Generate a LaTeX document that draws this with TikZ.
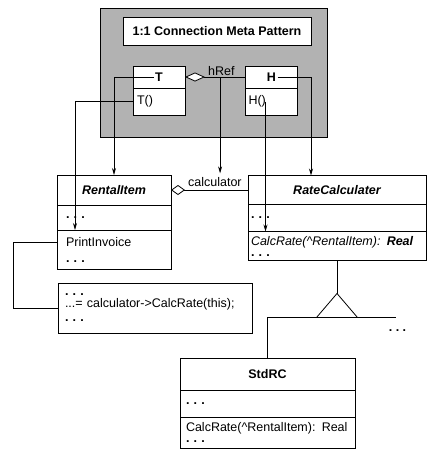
\documentclass[tikz,border=0pt]{standalone}
\usepackage{fontspec}
\setmainfont{Liberation Sans}
\usetikzlibrary{arrows.meta, positioning, calc}
\newcommand{\umlfont}{\fontsize{12.5}{15}\selectfont}
\newcommand{\umldots}{\textbf{.~.~.}}

\begin{document}
\begin{tikzpicture}[
    x=1pt, y=1pt,
    cname/.style={rectangle, draw, line width=0.9pt, fill=white, outer sep=0pt,
                  inner sep=0pt, font=\umlfont\bfseries\itshape, align=center},
    crow/.style={rectangle, draw, line width=0.9pt, fill=white, outer sep=0pt,
                 inner xsep=5pt, inner ysep=0pt, font=\umlfont, align=left},
    arr/.style={-{Stealth[length=7pt,width=4pt]}, line width=0.8pt},
    link/.style={line width=0.8pt},
]
    \useasboundingbox (0,0) rectangle (427,-450);

    % meta pattern
    \node[draw, line width=1pt, fill=black!30, minimum width=227pt, minimum height=129pt] (meta) at (213.5,-72.5) {};
    \node[cname, font=\umlfont\bfseries, minimum width=188pt, minimum height=28pt] (mtitle) at (217,-31) {1:1 Connection Meta Pattern};

    \node[cname, font=\umlfont\bfseries, minimum width=52pt, minimum height=22pt] (Tn) at (159,-77) {T};
    \node[crow, inner xsep=4pt, text width=44pt, minimum height=27pt, below=0pt of Tn] (Tm) {T()};

    \node[cname, font=\umlfont\bfseries, minimum width=52pt, minimum height=22pt] (Hn) at (271.5,-77) {H};
    \node[crow, inner xsep=3pt, text width=46pt, minimum height=27pt, below=0pt of Hn] (Hm) {H()};

    % classes
    \node[cname, minimum width=114pt, minimum height=30pt] (rit) at (114,-190) {RentalItem};
    \node[crow, inner xsep=9pt, text width=96pt, minimum height=25pt, below=0pt of rit] (ria) {\umldots};
    \node[crow, inner xsep=9pt, text width=96pt, minimum height=39pt, below=0pt of ria] (rim)
        {PrintInvoice\\[1pt]\umldots};

    \node[cname, minimum width=178pt, minimum height=29pt, right=77pt of rit] (rct) {RateCalculater};
    \node[crow, inner xsep=3pt, text width=172pt, minimum height=27pt, below=0pt of rct] (rca) {\umldots};
    \node[crow, inner xsep=3pt, text width=172pt, minimum height=29pt, below=0pt of rca] (rcm)
        {\textit{CalcRate(\textasciicircum RentalItem): \textbf{Real}}\\[-4pt]\umldots};

    \node[crow, inner xsep=7pt, text width=180pt, minimum height=50pt] (code) at (155,-308)
        {\umldots\\[-3pt]...= calculator->CalcRate(this);\\[-1pt]\umldots};

    \node[cname, font=\umlfont\bfseries, minimum width=175pt, minimum height=32pt] (sdt) at (267.5,-374) {StdRC};
    \node[crow, inner xsep=6pt, text width=163pt, minimum height=27pt, below=0pt of sdt] (sda) {\umldots};
    \node[crow, inner xsep=6pt, text width=163pt, minimum height=31pt, below=0pt of sda] (sdm)
        {CalcRate(\textasciicircum RentalItem): Real\\[-4pt]\umldots};

    % associations
    \draw[link, {Diamond[fill=white,length=20pt,width=9pt]}-] (Tn.east)
        -- coordinate[pos=0.58] (hr) node[above, pos=0.6, font=\umlfont, inner sep=1pt] (hreftxt) {hRef} (Hn.west);
    \draw[link, {Diamond[fill=white,length=14pt,width=10pt]}-] (rit.east)
        -- node[above, pos=0.57, font=\umlfont] (calc) {calculator} (rct.west);
    \draw[link] ([yshift=7pt]rim.west) -- ++(-44,0) |- (code.west);

    % meta pattern bindings
    \draw[arr] ([xshift=-5pt]Tn.center) -| (rit.north);
    \draw[arr] (Tm.west) -| ([xshift=18pt]rim.north west);
    \draw[arr] (hr) -- (hr |- calc.north);
    \draw[arr] ([xshift=6pt]Hn.center) -| ([xshift=63pt]rct.north west);
    \coordinate (hm) at ([xshift=20pt]Hm.west);
    \draw[arr] (hm) -- (hm |- rcm.north);

    % generalization
    \coordinate (apex) at ([yshift=-33pt]rcm.south);
    \coordinate (base) at ([yshift=-24pt]apex);
    \draw[link] (rcm.south) -- (apex);
    \draw[link, fill=white] (apex) -- ([xshift=-20.5pt]base) -- ([xshift=20.5pt]base) -- cycle;
    \draw[link] (sdt.north) |- ([xshift=59pt]base);
    \node[font=\umlfont] (more) at (397.5,-331) {\umldots};
\end{tikzpicture}
\end{document}
